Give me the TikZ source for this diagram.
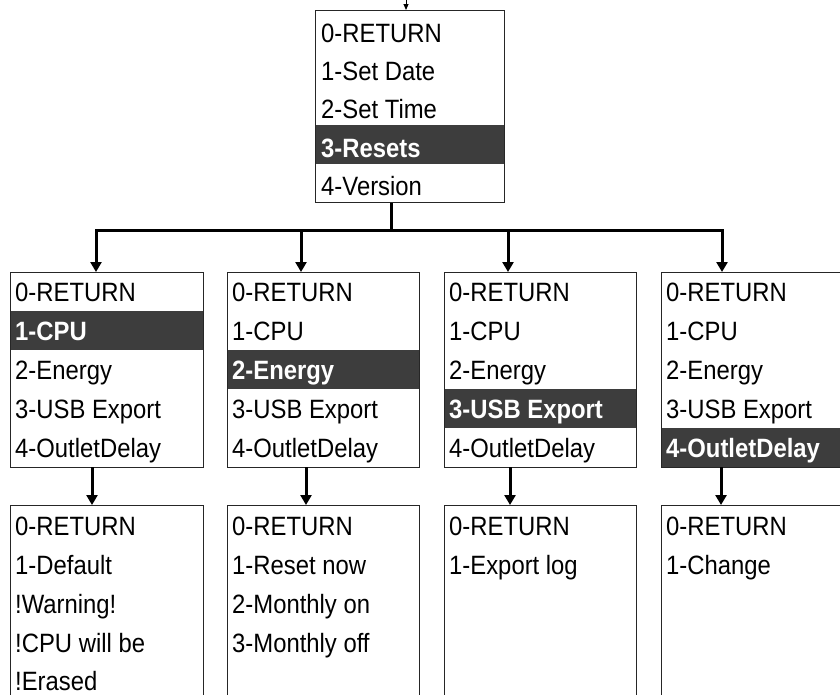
\documentclass[tikz,border=0pt]{standalone}
\usepackage{fontspec}
\setmainfont[FakeStretch=0.9]{Liberation Sans}
\usetikzlibrary{arrows.meta}
\begin{document}
\begin{tikzpicture}[x=1pt,y=-1pt,
  menubox/.style={draw=black!85, line width=1.2pt, anchor=north west, inner sep=0pt},
  hl/.style={fill=black!76},
  item/.style={anchor=base west, inner sep=0pt, font=\fontsize{26.5}{26.5}\selectfont, text=black},
  hitem/.style={item, text=white, font=\fontsize{26.5}{26.5}\selectfont\bfseries},
  conn/.style={line width=3pt, black},
  arr/.style={conn, -{Triangle[width=11pt,length=10pt]}}]
\useasboundingbox (0,0) rectangle (840,694);
\clip (0,0) rectangle (840,694);
% ---------- top menu ----------
\fill[hl] (315,125.2) rectangle (504,163.6);
\node[menubox, minimum width=189pt, minimum height=192pt] (top) at (315,10) {};
\node[item] (t0) at (321,42) {0-RETURN};
\node[item] (t1) at (321,80.4) {1-Set Date};
\node[item] (t2) at (321,118.8) {2-Set Time};
\node[hitem] (t3) at (321,157.2) {3-Resets};
\node[item] (t4) at (321,195.6) {4-Version};
\coordinate (in) at (406,-4);
\draw[-{Triangle[width=5pt,length=6pt]}, line width=1pt] (in) -- (in |- top.north);
% ---------- second row ----------
\fill[hl] (10,311) rectangle (203,350);
\fill[hl] (227,350) rectangle (419,389);
\fill[hl] (444,389) rectangle (636,428);
\fill[hl] (661,428) rectangle (860,467);
\node[menubox, minimum width=193pt, minimum height=195pt] (b1) at (10,272) {};
\node[menubox, minimum width=192pt, minimum height=195pt] (b2) at (227,272) {};
\node[menubox, minimum width=192pt, minimum height=195pt] (b3) at (444,272) {};
\node[menubox, minimum width=199pt, minimum height=195pt] (b4) at (661,272) {};
% box 1
\node[item]  (b1r0) at (15,301) {0-RETURN};
\node[hitem] (b1r1) at (15,340) {1-CPU};
\node[item]  (b1r2) at (15,379) {2-Energy};
\node[item]  (b1r3) at (15,418) {3-USB Export};
\node[item]  (b1r4) at (15,457) {4-OutletDelay};
% box 2
\node[item]  (b2r0) at (232,301) {0-RETURN};
\node[item]  (b2r1) at (232,340) {1-CPU};
\node[hitem] (b2r2) at (232,379) {2-Energy};
\node[item]  (b2r3) at (232,418) {3-USB Export};
\node[item]  (b2r4) at (232,457) {4-OutletDelay};
% box 3
\node[item]  (b3r0) at (449,301) {0-RETURN};
\node[item]  (b3r1) at (449,340) {1-CPU};
\node[item]  (b3r2) at (449,379) {2-Energy};
\node[hitem] (b3r3) at (449,418) {3-USB Export};
\node[item]  (b3r4) at (449,457) {4-OutletDelay};
% box 4
\node[item]  (b4r0) at (666,301) {0-RETURN};
\node[item]  (b4r1) at (666,340) {1-CPU};
\node[item]  (b4r2) at (666,379) {2-Energy};
\node[item]  (b4r3) at (666,418) {3-USB Export};
\node[hitem] (b4r4) at (666,457) {4-OutletDelay};
% ---------- third row ----------
\node[menubox, minimum width=193pt, minimum height=220pt] (c1) at (10,505) {};
\node[menubox, minimum width=192pt, minimum height=220pt] (c2) at (227,505) {};
\node[menubox, minimum width=192pt, minimum height=220pt] (c3) at (444,505) {};
\node[menubox, minimum width=199pt, minimum height=220pt] (c4) at (661,505) {};
\node[item] (c1r0) at (15,535) {0-RETURN};
\node[item] (c1r1) at (15,574) {1-Default};
\node[item] (c1r2) at (15,613) {!Warning!};
\node[item] (c1r3) at (15,652) {!CPU will be};
\node[item] (c1r4) at (15,690) {!Erased};
\node[item] (c2r0) at (232,535) {0-RETURN};
\node[item] (c2r1) at (232,574) {1-Reset now};
\node[item] (c2r2) at (232,613) {2-Monthly on};
\node[item] (c2r3) at (232,652) {3-Monthly off};
\node[item] (c3r0) at (449,535) {0-RETURN};
\node[item] (c3r1) at (449,574) {1-Export log};
\node[item] (c4r0) at (666,535) {0-RETURN};
\node[item] (c4r1) at (666,574) {1-Change};
% ---------- connectors ----------
\coordinate (j)  at (391,230);
\coordinate (a1) at (96,230);
\coordinate (a2) at (301,230);
\coordinate (a3) at (508,230);
\coordinate (a4) at (722,230);
\draw[conn] (top.south -| j) -- (j);
\draw[conn, line cap=rect] (a1) -- (a4);
\draw[arr] (a1) -- (a1 |- b1.north);
\draw[arr] (a2) -- (a2 |- b2.north);
\draw[arr] (a3) -- (a3 |- b3.north);
\draw[arr] (a4) -- (a4 |- b4.north);
\coordinate (d1) at (92,467);
\coordinate (d2) at (306,467);
\coordinate (d3) at (510,467);
\coordinate (d4) at (721,467);
\draw[arr] (d1) -- (d1 |- c1.north);
\draw[arr] (d2) -- (d2 |- c2.north);
\draw[arr] (d3) -- (d3 |- c3.north);
\draw[arr] (d4) -- (d4 |- c4.north);
\end{tikzpicture}
\end{document}
